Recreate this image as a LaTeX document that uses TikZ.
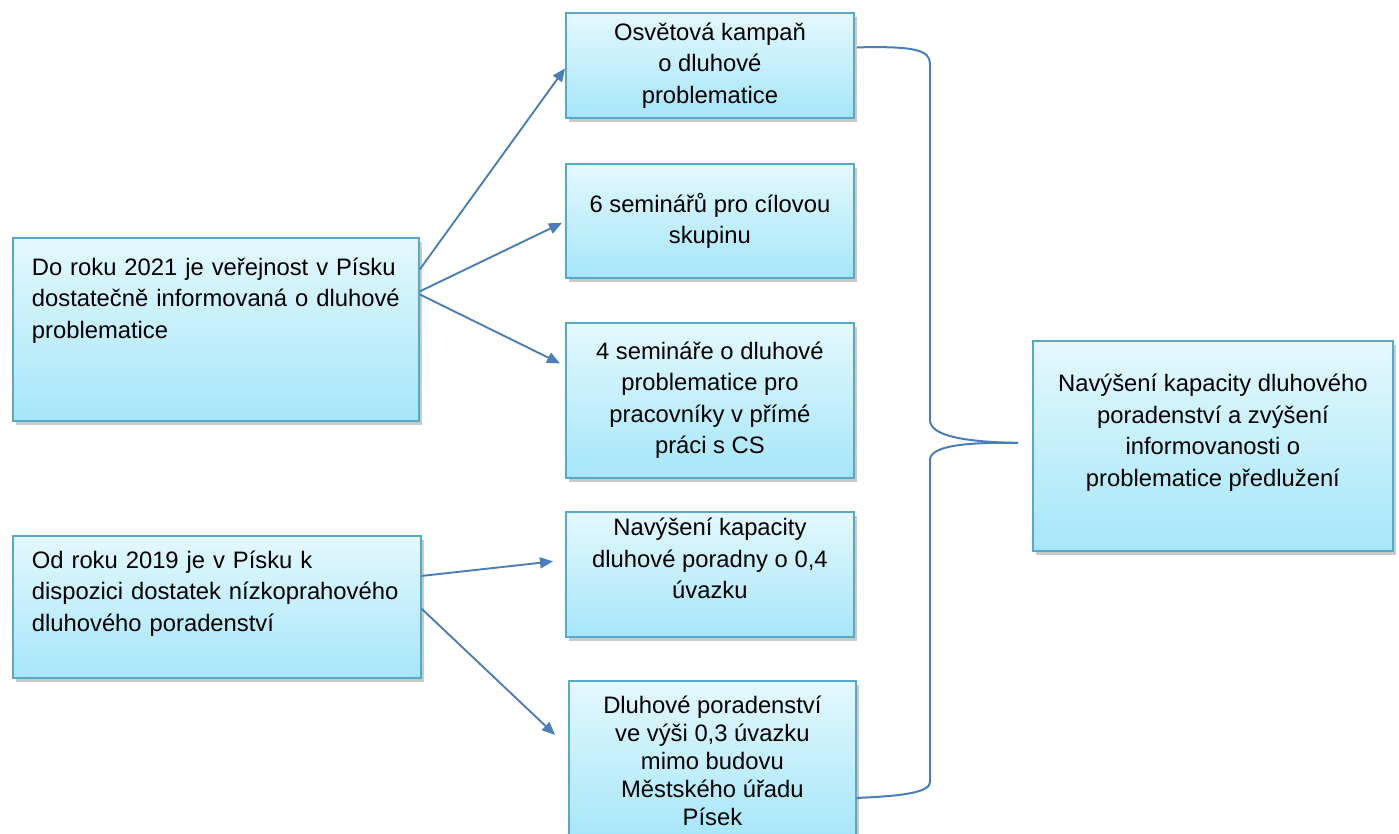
\documentclass[tikz,border=0pt]{standalone}
\usepackage{fontspec}
\setmainfont{Liberation Sans}
\usetikzlibrary{arrows.meta,shadows,positioning}
\definecolor{boxborder}{RGB}{84,170,200}
\definecolor{boxtop}{RGB}{228,248,253}
\definecolor{boxbot}{RGB}{165,230,249}
\definecolor{arrowblue}{RGB}{74,126,187}
\tikzset{
  box/.style={draw=boxborder, line width=1.8pt, top color=boxtop, bottom color=boxbot,
    drop shadow={shadow xshift=3pt, shadow yshift=-4pt, opacity=0.35, fill=black!60},
    inner sep=0pt, font=\fontsize{23.8}{31.5}\selectfont},
  cbox/.style={box, align=center},
  lbox/.style={box, align=left},
  conn/.style={draw=arrowblue, line width=1.9pt, -{Triangle[width=11pt,length=13pt]}},
  bracel/.style={draw=arrowblue, line width=2pt}
}
\begin{document}
\begin{tikzpicture}[x=1pt,y=-1pt]
\useasboundingbox (0,0) rectangle (1399,834);
% left boxes
\node[lbox, minimum width=406, minimum height=183, anchor=north west, text width=368] (A) at (12,237)
  {Do roku 2021 je veřejnost v Písku\\dostatečně informovaná o dluhové\\problematice\\\mbox{}\\\mbox{}};
\node[lbox, minimum width=408, minimum height=142, anchor=north west, text width=370] (B) at (12,535)
  {Od roku 2019 je v Písku k\\dispozici dostatek nízkoprahového\\dluhového poradenství\\\mbox{}};
% middle boxes
\node[cbox, minimum width=288, minimum height=105, anchor=north west] (M1) at (565,12)
  {Osvětová kampaň\\o dluhové\\problematice};
\node[cbox, minimum width=288, minimum height=114, anchor=north west] (M2) at (565,163)
  {6 seminářů pro cílovou\\skupinu};
\node[cbox, minimum width=288, minimum height=155, anchor=north west] (M3) at (565,322)
  {4 semináře o dluhové\\problematice pro\\pracovníky v přímé\\práci s CS};
\node[cbox, minimum width=288, minimum height=125, anchor=north west] (M4) at (565,511)
  {Navýšení kapacity\\dluhové poradny o 0,4\\úvazku\\\mbox{}};
\node[cbox, minimum width=287, minimum height=160, anchor=north west, font=\fontsize{23.8}{28}\selectfont] (M5) at (568,680)
  {Dluhové poradenství\\ve výši 0,3 úvazku\\mimo budovu\\Městského úřadu\\Písek};
% right box
\node[cbox, minimum width=360, minimum height=210, anchor=north west] (R) at (1032,340)
  {Navýšení kapacity dluhového\\poradenství a zvýšení\\informovanosti o\\problematice předlužení\\\mbox{}};
% connectors
\draw[conn] ([yshift=60]A.east) -- ([yshift=-3]M1.west);
\draw[conn] ([yshift=38]A.east) -- ([xshift=-3,yshift=-2]M2.west);
\draw[conn] ([yshift=35]A.east) -- ([xshift=-5,yshift=37]M3.west);
\draw[conn] ([yshift=31]B.east) -- ([xshift=-12,yshift=13]M4.west);
\draw[conn] ([yshift=-2]B.east) -- ([xshift=-13,yshift=26]M5.west);
% brace
\coordinate (tip) at ([xshift=-14,yshift=3]R.west);
\coordinate (btop) at ([xshift=2,yshift=18]M1.east);
\coordinate (bbot) at ([yshift=-37]M5.east);
\draw[bracel] (btop) .. controls (915,46) and (930,50) .. (930,64) -- (930,420)
  .. controls (930,436) and (965,442) .. (tip);
\draw[bracel] (tip) .. controls (965,442) and (930,446) .. (930,460) -- (930,782)
  .. controls (930,792) and (905,796) .. (bbot);
\end{tikzpicture}
\end{document}
